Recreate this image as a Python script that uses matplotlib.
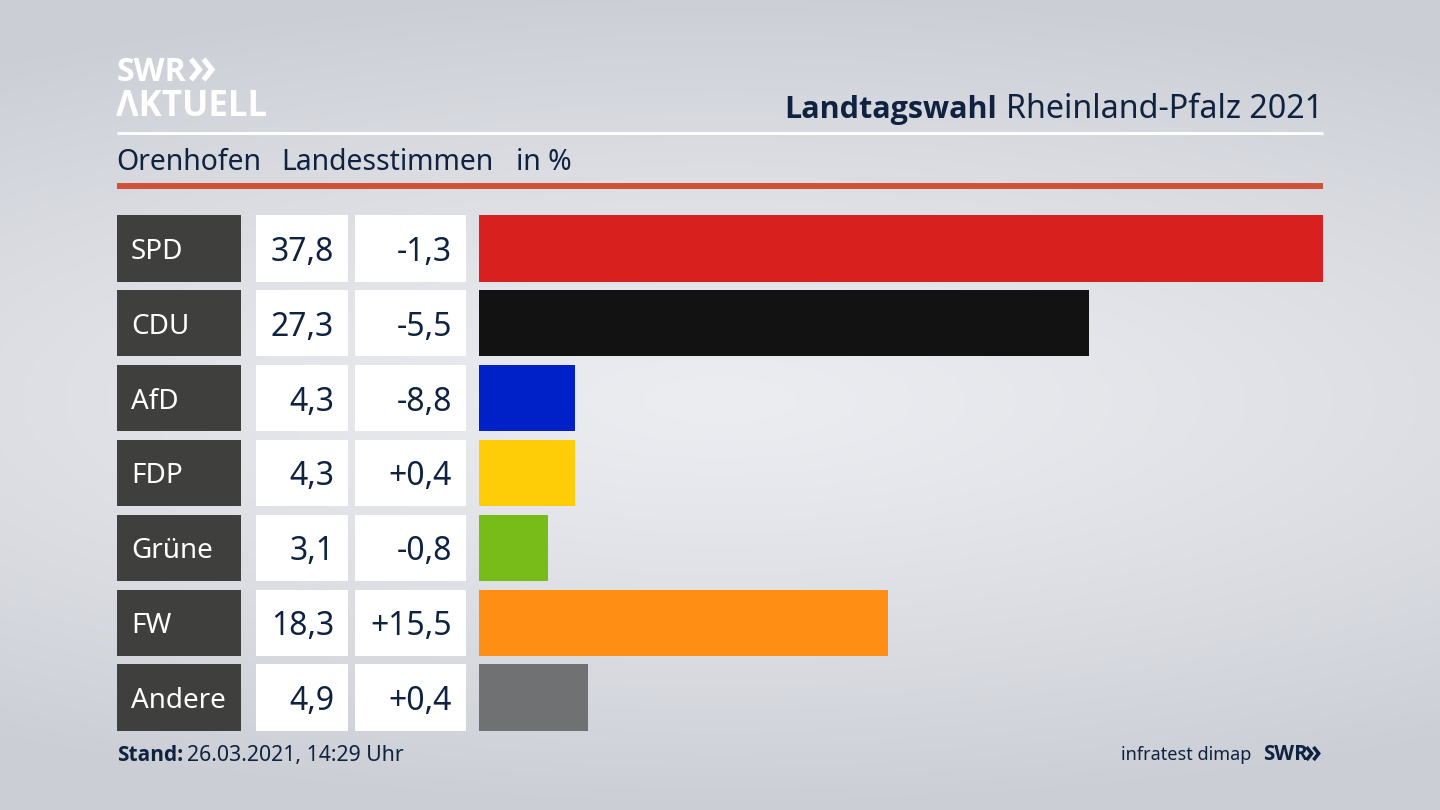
import matplotlib
matplotlib.use("Agg")
import matplotlib.pyplot as plt
import numpy as np

plt.rcParams["font.family"] = ["Noto Sans", "DejaVu Sans"]
BOLD = ["Open Sans", "DejaVu Sans"]

parties = ["SPD", "CDU", "AfD", "FDP", "Grüne", "FW", "Andere"]
shares = [37.8, 27.3, 4.3, 4.3, 3.1, 18.3, 4.9]
share_labels = ["37,8", "27,3", "4,3", "4,3", "3,1", "18,3", "4,9"]
change_labels = ["-1,3", "-5,5", "-8,8", "+0,4", "-0,8", "+15,5", "+0,4"]
bar_colors = ["#d8201f", "#121212", "#0021c8", "#fecd08", "#78bc1a", "#ff8e14", "#707172"]

NAVY = "#0f2240"
W, H = 1440, 810
BAR_H = 0.889


def add_px_axes(fig, x0, y0, x1, y1):
    ax = fig.add_axes([x0 / W, 1 - y1 / H, (x1 - x0) / W, (y1 - y0) / H])
    ax.axis("off")
    return ax


def background():
    yy, xx = np.mgrid[0:H, 0:W]
    dist = np.sqrt(((xx - 720) / 1350) ** 2 + ((yy - 400) / 410) ** 2)
    t = np.clip(dist, 0, 1)[..., None] ** 1.2
    light = np.array([236, 237, 241]) / 255
    dark = np.array([203, 206, 213]) / 255
    return light * (1 - t) + dark * t


def chevrons(ax, x, y, half, gap, lw, color):
    for dx in (0, gap):
        ax.plot([x + dx, x + dx + half * 0.8, x + dx], [y - half, y, y + half],
                color=color, lw=lw, solid_joinstyle="miter", solid_capstyle="butt")


fig = plt.figure(figsize=(14.4, 8.1), dpi=100)

base = add_px_axes(fig, 0, 0, W, H)
base.imshow(background(), extent=(0, W, H, 0), aspect="auto", zorder=0)
base.set_xlim(0, W)
base.set_ylim(H, 0)

# header
base.text(117, 81, "SWR", color="white", fontsize=23, family=BOLD, fontweight="bold", va="baseline", ha="left")
chevrons(base, 191, 69.5, 10.5, 12.5, 3.8, "white")
base.text(116, 116, "ΛKTUELL", color="white", fontsize=25, family=BOLD, fontweight="bold", va="baseline", ha="left")
base.plot([117, 1323], [133, 133], color="white", lw=2.1, solid_capstyle="butt")
base.plot([117, 1323], [186, 186], color="#cf5238", lw=4.3, solid_capstyle="butt")

title = base.text(1323, 118, "Rheinland-Pfalz 2021", color=NAVY, fontsize=23.2, ha="right", va="baseline")
fig.canvas.draw()
box = title.get_window_extent()
base.text(box.x0 - 9, 118, "Landtagswahl", color=NAVY, fontsize=22, family=BOLD, fontweight="bold",
          ha="right", va="baseline")

for x, s in [(116, "Orenhofen"), (281, "Landesstimmen"), (516, "in %")]:
    base.text(x, 170, s, color=NAVY, fontsize=20.4, ha="left", va="baseline")

# table on the left
table = add_px_axes(fig, 117, 215, 466, 731)
table.set_xlim(117, 466)
table.set_ylim(6 + BAR_H / 2, -BAR_H / 2)
rows = np.arange(len(parties))
table.barh(rows, 124, left=117, height=BAR_H, color="#3f3f3d")
table.barh(rows, 92.5, left=255.5, height=BAR_H, color="white")
table.barh(rows, 111.5, left=354.5, height=BAR_H, color="white")
for i in rows:
    table.text(131, i, parties[i], color="white", fontsize=20, va="center_baseline", ha="left")
    table.text(334, i, share_labels[i], color=NAVY, fontsize=23, va="center_baseline", ha="right")
    table.text(452, i, change_labels[i], color=NAVY, fontsize=23, va="center_baseline", ha="right")

# bars
bars = add_px_axes(fig, 479, 215, 1323, 731)
bars.barh(rows, shares, height=BAR_H, color=bar_colors)
bars.set_xlim(0, max(shares))
bars.set_ylim(6 + BAR_H / 2, -BAR_H / 2)

# footer
base.text(117, 761, "Stand:", color=NAVY, fontsize=15, family=BOLD, fontweight="bold", ha="left", va="baseline")
base.text(187, 761, "26.03.2021, 14:29 Uhr", color=NAVY, fontsize=15.3, ha="left", va="baseline")
base.text(1251, 760, "infratest dimap", color=NAVY, fontsize=13, ha="right", va="baseline")
base.text(1263, 760, "SWR", color=NAVY, fontsize=14.8, family=BOLD, fontweight="bold", ha="left", va="baseline")
chevrons(base, 1306.5, 753.5, 6.5, 7, 2.5, NAVY)

fig.savefig("out.png", dpi=100)
